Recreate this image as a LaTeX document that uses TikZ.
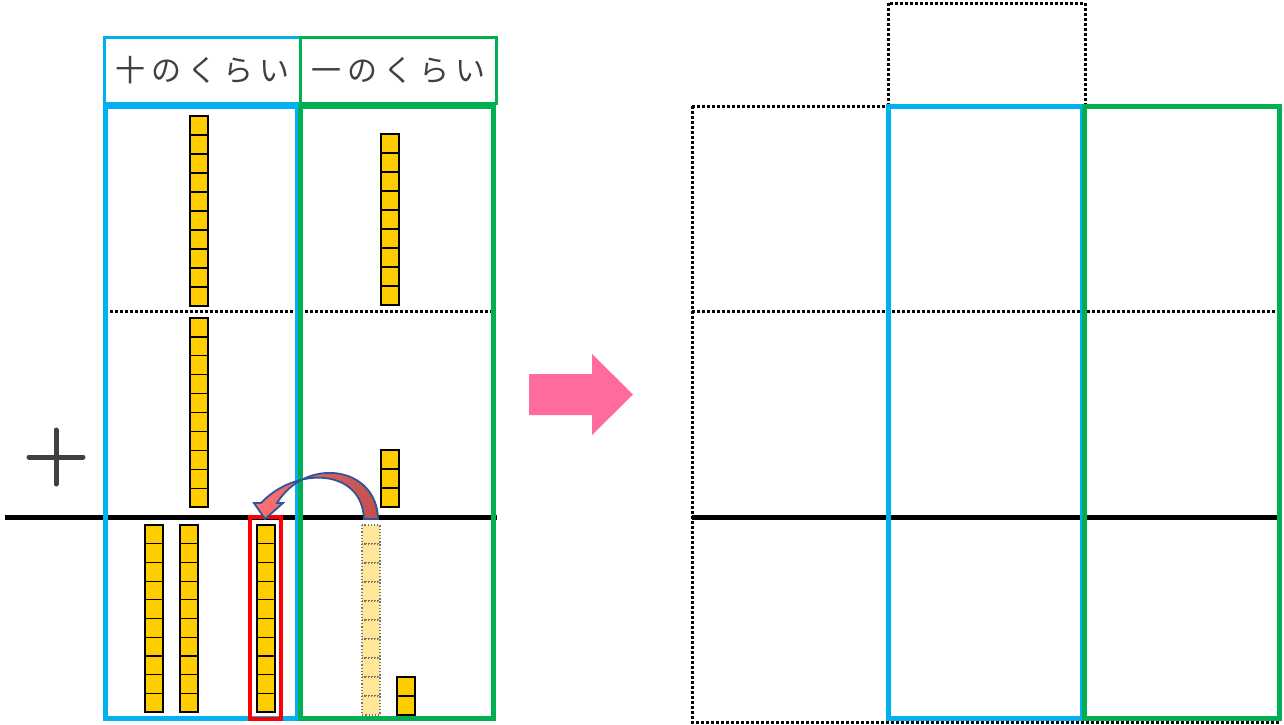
\documentclass[tikz,border=0pt]{standalone}
\usepackage{fontspec}
\newfontfamily\jpfont{Noto Sans CJK JP}
\usetikzlibrary{positioning}
\definecolor{placeblue}{HTML}{00B0F0}
\definecolor{placegreen}{HTML}{00B050}
\definecolor{cubeyellow}{HTML}{FFCC00}
\definecolor{fadeyellow}{HTML}{FFE699}
\definecolor{arrowpink}{HTML}{FF6B9D}
\definecolor{curveblue}{HTML}{2F5597}
\definecolor{curvelight}{HTML}{FF7373}
\definecolor{curvedark}{HTML}{C0504D}
\definecolor{textgray}{HTML}{404040}

\begin{document}
\begin{tikzpicture}
	[x=1pt, y=-1pt,
	 cube/.style={fill=cubeyellow, draw=black, line width=1.2pt},
	 ghost/.style={fill=fadeyellow, draw=black!55, dotted, line width=1.2pt},
	 header/.style={draw, line width=3pt, minimum width=196pt, minimum height=66pt, inner sep=0pt,
	   text=textgray, font=\jpfont\fontsize{30}{30}\selectfont},
	 rowline/.style={line width=3pt, dash pattern=on 3pt off 2pt},
	 sumline/.style={line width=5pt},
	 tensbox/.style={draw=placeblue, line width=5pt},
	 onesbox/.style={draw=placegreen, line width=5pt}]
	\useasboundingbox (0,0) rectangle (1284,724);
	% left panel
	\node[header, draw=placeblue] (tens) at (202,70) {十\hspace{6pt}の\hspace{6pt}く\hspace{6pt}ら\hspace{6pt}い};
	\node[header, draw=placegreen] (ones) at (398,70) {一\hspace{6pt}の\hspace{6pt}く\hspace{6pt}ら\hspace{6pt}い};
	\foreach \cx/\cy/\n/\h in {190/116/10/19, 381/134/9/19, 190/318/10/18.9, 381/450/3/19,
	                           145/525/10/18.7, 180/525/10/18.7, 257/525/10/18.7, 397/677/2/19}
		\foreach \k in {1,...,\n}
			\draw[cube] (\cx,{\cy+\h*(\k-1)}) rectangle ++(18,\h);
	\foreach \k in {1,...,10}
		\draw[ghost] (362,{525+19*(\k-1)}) rectangle ++(18,19);
	\draw[rowline] (105,311) -- (495,311);
	\draw[sumline] (5,517) -- (497,517);
	\draw[tensbox] (105,106) rectangle (297,718);
	\draw[onesbox] (300,106) rectangle (493,718);
	\draw[red, line width=4pt] (250,517) rectangle (281,719);
	\draw[textgray, line width=5pt, line cap=round] (29,457) -- (83,457) (56,430) -- (56,484);
	% carry arrow
	\coordinate (from) at (371,518);
	\coordinate (to) at (265,519);
	\draw[curveblue, line width=1.8pt, left color=curvelight, right color=curvedark]
		(378,519) .. controls (377,466) and (306,456) .. (277,503)
		-- (283,503) -- (to) -- (254,503) -- (261,503)
		.. controls (296,466) and (362,468) .. (364,519) -- cycle;
	% big arrow
	\fill[arrowpink] (529,374) -- (592,374) -- (592,354) -- (633,394.5) -- (592,435) -- (592,415) -- (529,415) -- cycle;
	% right panel
	\draw[rowline] (692,106) rectangle (1280,722);
	\draw[rowline] (888,3) rectangle (1085,106);
	\draw[rowline] (692,311) -- (1280,311);
	\draw[sumline] (692,517) -- (1280,517);
	\draw[tensbox] (888,106) rectangle (1082,718);
	\draw[onesbox] (1084,106) rectangle (1279,718);
\end{tikzpicture}
\end{document}
